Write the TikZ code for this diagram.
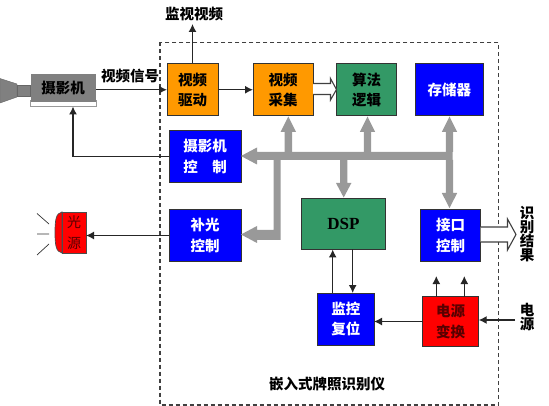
\documentclass[tikz,border=0pt]{standalone}
\usepackage{fontspec}
\setmainfont{Noto Sans CJK SC}
\newfontfamily\dspfont{Liberation Serif}
\usetikzlibrary{arrows.meta,calc}
\definecolor{orangeb}{HTML}{FF9900}
\definecolor{greenb}{HTML}{339966}
\definecolor{blueb}{HTML}{0000FF}
\definecolor{redb}{HTML}{FF0000}
\definecolor{busgray}{HTML}{999999}
\definecolor{camgray}{HTML}{808080}
\definecolor{edgeb}{HTML}{333333}
\newcommand{\bxnode}[7]{%
  \node[#6,minimum width={(#4-#2)*1pt},minimum height={(#5-#3)*1pt}] (#1) at ({(#2+#4)/2},{(#3+#5)/2}) {#7};}
\tikzset{
  x=1pt,y=-1pt,
  every node/.style={inner sep=0pt,outer sep=0pt,font=\fontsize{14.5}{20.5}\selectfont\bfseries,align=center},
  bx/.style={draw=edgeb,line width=1pt,rectangle},
  orangebox/.style={bx,fill=orangeb,text=black},
  greenbox/.style={bx,fill=greenb,text=black},
  bluebox/.style={bx,fill=blueb,text=white},
  redbox/.style={bx,fill=redb,text=red!35!black},
  arr/.style={-{Latex[length=8pt,width=8pt]},line width=1.3pt,draw=black!85},
  bus/.style={draw=none,fill=busgray},
  hollow/.style={draw=black!75,line width=1.1pt,fill=white},
  frame/.style={draw=black!75,line width=1.1pt,dash pattern=on 4pt off 3pt},
}
\begin{document}
\begin{tikzpicture}
\useasboundingbox[fill=white] (0,0) rectangle (549,406);
% frame
\draw[frame] (160,42.5) rectangle (498.7,405);
% camera lens
\fill[camgray,draw=black!60,line width=0.4pt] (0,78.5) -- (17,84) -- (17,97) -- (0,103) -- cycle;
\fill[camgray,draw=black!60,line width=0.4pt] (17,85) rectangle (30,96);
\bxnode{camb}{30.5}{100}{96}{106.5}{fill=white,draw=black!40,line width=0.8pt}{}
\bxnode{cam}{30.5}{74.5}{96}{102.5}{fill=camgray,text=black}{\raisebox{1pt}{摄影机}}
% boxes
\bxnode{vd}{167}{63.5}{218}{116}{orangebox}{视频\\驱动}
\bxnode{vc}{253}{63.5}{313}{116}{orangebox}{视频\\采集}
\bxnode{alg}{336.5}{63.5}{396.7}{116}{greenbox}{算法\\逻辑}
\bxnode{mem}{415.5}{63.5}{483}{116}{bluebox}{存储器}
\bxnode{cc}{169}{130.5}{241}{182.5}{bluebox}{摄影机\\控\hspace{1em}制}
\bxnode{lc}{169}{209.5}{241}{261.5}{bluebox}{补光\\控制}
\bxnode{dsp}{301.5}{198.5}{385.5}{249.5}{greenbox}{\dspfont\fontsize{17}{18}\selectfont\bfseries DSP}
\bxnode{ic}{420.5}{209.5}{480.7}{261.5}{bluebox}{接口\\控制}
\bxnode{wd}{317.5}{293}{374}{345}{bluebox}{监控\\复位}
\bxnode{pw}{422.5}{296.5}{478.7}{346.5}{redbox}{电源\\变换}
% light source
\fill[redb,draw=black!70,line width=0.7pt] (62,212) .. controls (56,213) and (55,220) .. (55,232.5) .. controls (55,245) and (56,252) .. (62,253) -- cycle;
\bxnode{ls}{62}{212}{86}{253}{fill=redb,draw=black!70,line width=0.7pt,text=red!35!black,font=\fontsize{14}{20.5}\selectfont}{光\\源}
\draw[black!80,line width=0.7pt] (37,213.5) -- (49,224) (37,234) -- (49,234) (37,255) -- (49,244);
% labels
\node (lmon) at (194,14) {监视视频};
\node (lsig) at (130,76.5) {视频信号};
\node (ltitle) at (327,384) {嵌入式牌照识别仪};
\node[font=\fontsize{14.5}{14}\selectfont\bfseries] (lres) at (527,234) {识\\别\\结\\果};
\node[font=\fontsize{14.5}{14}\selectfont\bfseries] (lpw) at (527,317.5) {电\\源};
% thin arrows
\coordinate (mont) at (193,24);
\draw[arr] (vd.north) -- (vd.north |- mont);
\draw[arr] (cam.east |- vd.west) -- (vd.west);
\draw[arr] (vd.east) -- (vc.west);
\coordinate (camup) at (73,157);
\draw[arr] (cc.west) -- (camup |- cc.west) -- (camup |- camb.south);
\draw[arr] (lc.west) -- (ls.east |- lc.west);
\coordinate (du) at (332.7,0); \coordinate (dd) at (352.7,0);
\draw[arr] (du |- wd.north) -- (du |- dsp.south);
\draw[arr] (dd |- dsp.south) -- (dd |- wd.north);
\coordinate (pa) at (436.3,276); \coordinate (pb) at (464.3,276);
\draw[arr] (pa |- pw.north) -- (pa);
\draw[arr] (pb |- pw.north) -- (pb);
\draw[arr] (pw.west) -- (wd.east |- pw.west);
\coordinate (pin) at (515,320);
\draw[arr] (pin) -- (pw.east |- pin);
% hollow arrows
\draw[hollow] (vc.east |- 0,83.5) -- (330.5,83.5) -- (330.5,78.5) -- (336.5,89.5) -- (330.5,100) -- (330.5,94.5) -- (vc.east |- 0,94.5);
\draw[hollow] (ic.east |- 0,227) -- (507.5,227) -- (507.5,219) -- (516,234.5) -- (507.5,250) -- (507.5,242) -- (ic.east |- 0,242);
% bus
\coordinate (bj) at (277,156);
\fill[bus] (241,156) -- (257,147.5) -- (257,152) -- (452.5,152) -- (452.5,160) -- (280.5,160) -- (280.5,240) -- (257,240) -- (257,243) -- (241,234.5) -- (257,226) -- (257,230) -- (273.5,230) -- (273.5,160) -- (257,160) -- (257,164.5) -- cycle;
\coordinate (ba) at (288.3,152); \coordinate (bb) at (367.5,152); \coordinate (bc) at (449.5,152); \coordinate (bd) at (343.7,160);
\fill[bus] (ba) ++(-3.7,0) -- ++(0,-20) -- ++(-4,0) -- (288.3,116.5) -- (296,132) -- ++(-4,0) -- (292,152) -- cycle;
\fill[bus] (bb) ++(-3.7,0) -- ++(0,-20) -- ++(-4,0) -- (367.5,116.5) -- (375.2,132) -- ++(-4,0) -- (371.2,152) -- cycle;
\fill[bus] (bc) ++(-3.7,0) -- ++(0,-20) -- ++(-4,0) -- (449.5,116.5) -- (457.2,132) -- ++(-4,0) -- (453.2,152) -- cycle;
\fill[bus] (bd) ++(-3.7,0) -- ++(0,23) -- ++(-4,0) -- (343.7,197.5) -- (351.4,183) -- ++(-4,0) -- (347.4,160) -- cycle;
\fill[bus] (445.8,160) -- (445.8,193) -- (441.8,193) -- (449.5,208) -- (457.2,193) -- (453.2,193) -- (453.2,160) -- cycle;
\end{tikzpicture}
\end{document}
